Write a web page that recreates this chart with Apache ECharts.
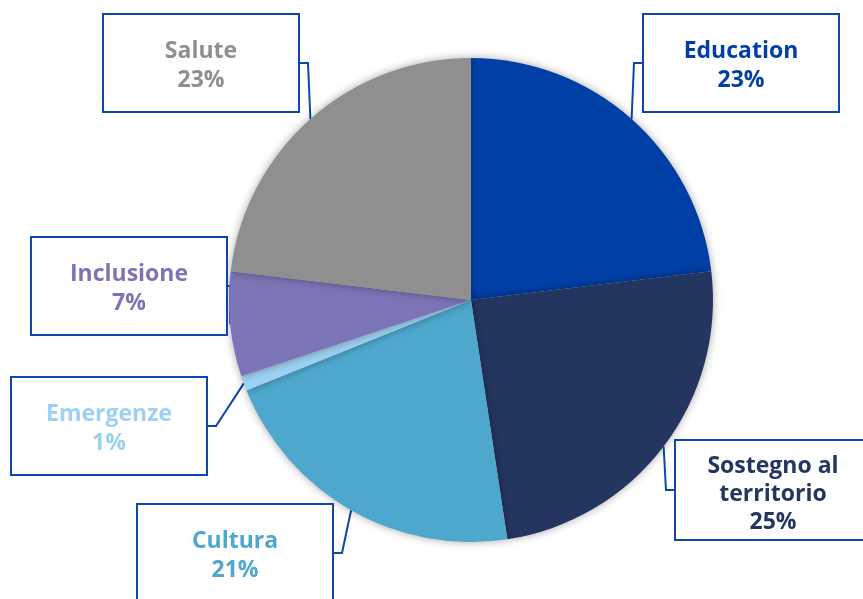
<!DOCTYPE html>
<html>
<head>
<meta charset="utf-8">
<script src="https://cdn.jsdelivr.net/npm/echarts@6/dist/echarts.min.js"></script>
<style>
html,body{margin:0;padding:0;background:#fff;}
#chart{width:863px;height:599px;}
</style>
</head>
<body>
<div id="chart"></div>
<script>
// Data (clockwise from 12 o'clock)
const categories = ['Education', 'Sostegno al\nterritorio', 'Cultura', 'Emergenze', 'Inclusione', 'Salute'];
const values = [23.1, 24.5, 21.3, 1.0, 7.0, 23.1];
const colors = ['#0040a6', '#243660', '#4ea8cd', '#9dd1f1', '#7b75b7', '#8f8f8f'];

// Callout box positions (center x, top y)
const boxPos = [[741, 15], [773, 441], [235, 505], [109, 378], [129, 238], [201, 15]];

const chart = echarts.init(document.getElementById('chart'), null, {renderer: 'canvas'});

const data = categories.map((c, i) => {
  const item = {name: c, value: values[i]};
  if (c.indexOf('\n') >= 0) {
    item.label = {padding: [11, 0, 3, 0], lineHeight: 28};
  }
  return item;
});

chart.setOption({
  animation: false,
  color: colors,
  series: [{
    type: 'pie',
    center: [471, 300],
    radius: [0, 242],
    startAngle: 90,
    clockwise: true,
    percentPrecision: 0,
    avoidLabelOverlap: false,
    itemStyle: {
      shadowBlur: 8,
      shadowColor: 'rgba(0,0,0,0.35)'
    },
    label: {
      show: true,
      position: 'outside',
      formatter: '{b}\n{d}%',
      color: 'inherit',
      fontFamily: 'Open Sans',
      fontWeight: 'bold',
      fontSize: 23,
      lineHeight: 29,
      width: 194,
      align: 'center',
      backgroundColor: '#ffffff',
      borderColor: '#0d47a9',
      borderWidth: 2,
      padding: [22, 0, 16, 0]
    },
    labelLine: {
      show: true,
      length: 8,
      length2: 8,
      smooth: false,
      lineStyle: {color: '#0d47a9', width: 2}
    },
    labelLayout: function (params) {
      const p = boxPos[params.dataIndex];
      return {x: p[0], y: p[1], align: 'center', verticalAlign: 'top'};
    },
    emphasis: {disabled: true},
    data: data
  }]
});
</script>
</body>
</html>
